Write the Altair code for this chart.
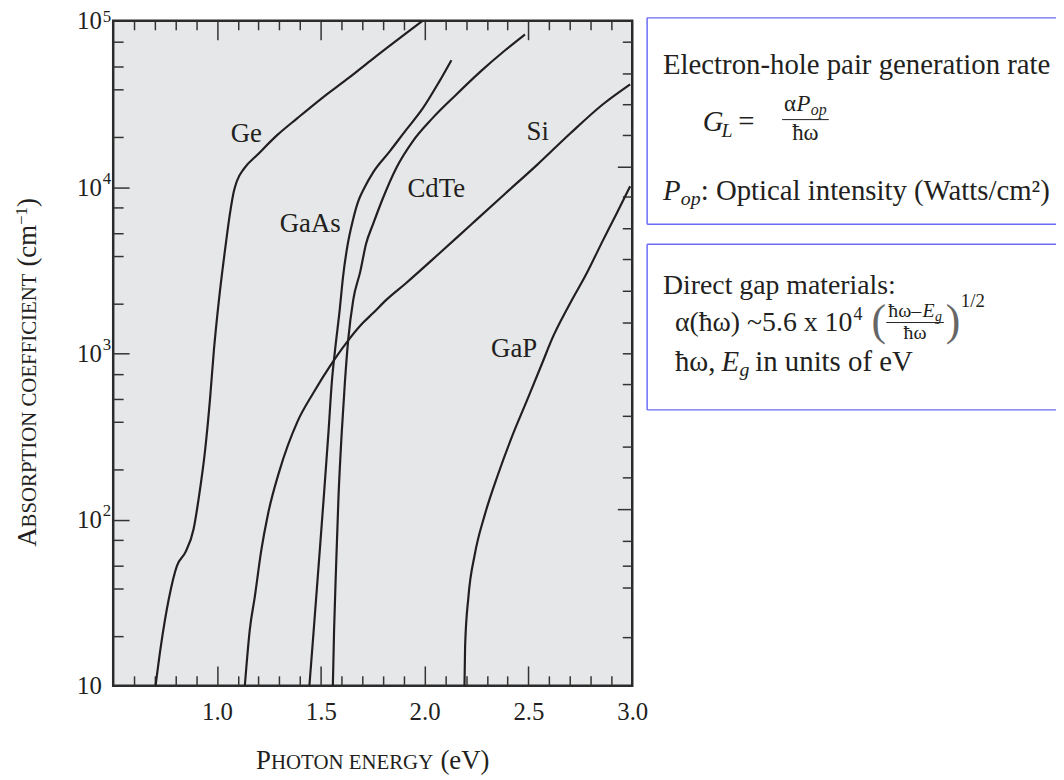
import altair as alt
import pandas as pd

FONT = "Liberation Serif"
INK = "#231f20"
BOX = "#6b6bf5"

# ---------------- data ----------------
materials = ["Ge", "GaAs", "CdTe", "Si", "GaP"]

ge_energy = [0.704, 0.728, 0.768, 0.807, 0.848, 0.887, 0.911, 0.943, 0.966, 0.985, 1.009, 1.038,
             1.064, 1.081, 1.095, 1.132, 1.196, 1.291, 1.386, 1.512, 1.639, 1.749, 1.990]
ge_alpha = [10, 16.8, 33.4, 52.7, 63.7, 87.3, 132, 263, 524, 1043, 2075, 4130,
            7150, 9400, 10800, 13000, 15700, 20600, 25900, 34800, 45800, 58900, 100000]

gaas_energy = [1.445, 1.466, 1.490, 1.514, 1.537, 1.553, 1.569, 1.591, 1.607, 1.630, 1.654, 1.678,
               1.710, 1.752, 1.832, 1.910, 1.990, 2.069, 2.129]
gaas_alpha = [10, 21.8, 54, 135, 337, 670, 1057, 1828, 2885, 4560, 6280, 8060,
              9910, 12270, 16400, 22000, 29600, 42800, 58000]

cdte_energy = [1.558, 1.564, 1.574, 1.585, 1.601, 1.616, 1.632, 1.656, 1.690, 1.718, 1.752, 1.800,
               1.863, 1.942, 2.037, 2.148, 2.274, 2.385, 2.483]
cdte_alpha = [10, 21.8, 54, 135, 337, 670, 1210, 2090, 3100, 4560, 6000, 8630,
              13000, 18800, 25900, 35600, 50200, 66100, 82800]

si_energy = [1.134, 1.158, 1.182, 1.213, 1.245, 1.300, 1.387, 1.466, 1.545, 1.624, 1.703, 1.752,
             1.814, 1.910, 2.069, 2.227, 2.385, 2.543, 2.701, 2.859, 2.990]
si_alpha = [10, 21.8, 34.3, 65, 107, 195, 387, 583, 840, 1160, 1525, 1746,
            2090, 2640, 3970, 6000, 9060, 13650, 21000, 31500, 41500]

gap_energy = [2.192, 2.195, 2.211, 2.242, 2.290, 2.353, 2.417, 2.496, 2.574, 2.606, 2.701, 2.780,
              2.859, 2.923, 2.990]
gap_alpha = [10, 17.3, 34.3, 62, 107, 186, 307, 532, 921, 1160, 2000, 3020,
             4780, 6870, 10100]

label_names = ["Ge", "GaAs", "CdTe", "Si", "GaP"]
label_energy = [1.141, 1.449, 2.056, 2.545, 2.431]
label_alpha = [20900, 6030, 9730, 21550, 1057]

x_label_values = [1.0, 1.5, 2.0, 2.5, 3.0]
x_tick_values = [0.6, 0.7, 0.8, 0.9, 1.0, 1.1, 1.2, 1.3, 1.4, 1.5, 1.6, 1.7, 1.8, 1.9,
                 2.0, 2.1, 2.2, 2.3, 2.4, 2.5, 2.6, 2.7, 2.8, 2.9]
y_label_values = [10, 100, 1000, 10000, 100000]
y_exponent_values = [100, 1000, 10000, 100000]
y_left_tick_values = [20, 38.5, 53, 75, 100, 200, 385, 530, 750, 1000, 2000, 3850, 5300, 7500,
                      10000, 20000, 38500, 53000, 75000]
y_right_tick_values = [19.5, 38.8, 52.7, 74.3, 115, 179, 274, 422, 652, 995, 1540, 2380, 3670,
                       5680, 8790, 13300, 20500, 31700, 48400, 74800]

# ---------------- tables ----------------
curve_energy = dict(zip(materials, [ge_energy, gaas_energy, cdte_energy, si_energy, gap_energy]))
curve_alpha = dict(zip(materials, [ge_alpha, gaas_alpha, cdte_alpha, si_alpha, gap_alpha]))
rows = []
for m in materials:
    for i, (e, a) in enumerate(zip(curve_energy[m], curve_alpha[m])):
        rows.append({"material": m, "energy": e, "alpha": a, "order": i})
curves = pd.DataFrame(rows)
labels = pd.DataFrame({"name": label_names, "energy": label_energy, "alpha": label_alpha})

W, H = 523, 670

xs = alt.Scale(domain=[0.5, 3.0], nice=False, zero=False)
ys = alt.Scale(type="log", domain=[10, 100000], nice=False)

x_major = "abs(datum.value * 2 - round(datum.value * 2)) < 0.01"
y_major = "abs(log(datum.value) / LN10 - round(log(datum.value) / LN10)) < 0.001"
r_major = "datum.value == 13300 || datum.value == 115"
exp_expr = ("datum.value == 100 ? '2' : datum.value == 1000 ? '3' : datum.value == 10000 ? '4' : "
            "datum.value == 100000 ? '5' : ''")

x_label_axis = alt.Axis(orient="bottom", values=x_label_values, format=".1f", ticks=False, domain=False,
                        grid=False, labelFont=FONT, labelFontSize=25, labelColor=INK, labelPadding=14,
                        labelFlush=False, title=None)
y_label_axis = alt.Axis(orient="left", values=y_label_values, labelExpr="'10'", ticks=False,
                        domain=False, grid=False, labelFont=FONT, labelFontSize=25, labelColor=INK,
                        labelPadding=12, title=None)
y_exp_axis = alt.Axis(orient="left", values=y_exponent_values, labelExpr=exp_expr, ticks=False,
                      domain=False, grid=False, labelFont=FONT, labelFontSize=17, labelColor=INK,
                      labelPadding=11, labelAlign="left", title=None,
                      labelOffset={"condition": {"test": "datum.value == 100000", "value": -4},
                                   "value": -9})


def tick_axis(orient, offset, values, test, major, minor):
    return alt.Axis(orient=orient, offset=offset, values=values, labels=False, domain=False, grid=False,
                    title=None, tickColor="#333333", tickWidth=1.5,
                    tickSize={"condition": {"test": test, "value": major}, "value": minor})


lines = alt.Chart(curves).mark_line(color=INK, strokeWidth=2.2, interpolate="monotone", clip=True).encode(
    x=alt.X("energy:Q", scale=xs, axis=x_label_axis),
    y=alt.Y("alpha:Q", scale=ys, axis=y_label_axis),
    detail="material:N",
    order="order:Q",
)

exps = alt.Chart(curves).mark_line(opacity=0).encode(
    x=alt.X("energy:Q", scale=xs, axis=None),
    y=alt.Y("alpha:Q", scale=ys, axis=y_exp_axis),
    detail="material:N",
)

ticks_a = alt.Chart(curves).mark_line(opacity=0).encode(
    x=alt.X("energy:Q", scale=xs, axis=tick_axis("top", -H, x_tick_values, x_major, 20, 10)),
    y=alt.Y("alpha:Q", scale=ys, axis=tick_axis("right", -W, y_left_tick_values, y_major, 16, 10)),
    detail="material:N",
)
ticks_b = alt.Chart(curves).mark_line(opacity=0).encode(
    x=alt.X("energy:Q", scale=xs, axis=tick_axis("bottom", -H, x_tick_values, x_major, 19, 9)),
    y=alt.Y("alpha:Q", scale=ys, axis=tick_axis("left", -W, y_right_tick_values, r_major, 15, 10)),
    detail="material:N",
)

curve_labels = alt.Chart(labels).mark_text(font=FONT, fontSize=27, color=INK).encode(
    x=alt.X("energy:Q", scale=xs, axis=None),
    y=alt.Y("alpha:Q", scale=ys, axis=None),
    text="name:N",
)

# ---------------- titles and side notes (layout in pixels) ----------------
one = pd.DataFrame({"k": [0]})


def hrule(x, x2, y, color=BOX, width=1.5):
    return alt.Chart(one).mark_rule(color=color, strokeWidth=width).encode(
        x=alt.value(x), x2=alt.value(x2), y=alt.value(y))


def vrule(x, y, y2, color=BOX, width=1.5):
    return alt.Chart(one).mark_rule(color=color, strokeWidth=width).encode(
        x=alt.value(x), y=alt.value(y), y2=alt.value(y2))


def note(s, x, y, size=28, italic=False, align="left", color=INK, baseline="middle", angle=0):
    return alt.Chart(pd.DataFrame({"s": [s]})).mark_text(
        font=FONT, fontSize=size, fontStyle="italic" if italic else "normal", align=align,
        baseline=baseline, color=color, angle=angle).encode(text="s:N", x=alt.value(x), y=alt.value(y))


# small-caps style axis titles
titles = [
    note("P", 144, 754, size=27, baseline="alphabetic"),
    note("HOTON ENERGY", 159, 754, size=21, baseline="alphabetic"),
    note("(eV)", 329.7, 754, size=27, baseline="alphabetic"),
    note("A", -78, 530, size=27, baseline="alphabetic", angle=270),
    note("BSORPTION COEFFICIENT", -78, 510.5, size=21, baseline="alphabetic", angle=270),
    note("(cm", -78, 247.6, size=27, baseline="alphabetic", angle=270),
    note("\u22121", -87, 205.6, size=17, baseline="alphabetic", angle=270),
    note(")", -78, 187.5, size=27, baseline="alphabetic", angle=270),
]

notes = [
    hrule(538, 960, -3), hrule(538, 960, 205), vrule(538, -3, 205),
    note("Electron-hole pair generation rate", 554, 45, size=29),
    note("G", 594, 102, size=29, italic=True),
    note("L", 613, 111, size=20, italic=True),
    note("=", 638, 102, size=29, align="center"),
    note("\u03b1", 676, 84, size=23),
    note("P", 688.5, 84, size=23, italic=True),
    note("op", 703, 90, size=16, italic=True),
    hrule(674, 721, 99.5, color=INK, width=1),
    note("\u0127\u03c9", 697.5, 113, size=23, align="center"),
    note("P", 554, 172, size=29, italic=True),
    note("op", 572, 180, size=20, italic=True),
    note(": Optical intensity (Watts/cm\u00b2)", 592, 172, size=29),

    hrule(538, 960, 225), hrule(538, 960, 392), vrule(538, 225, 392),
    note("Direct gap materials:", 554, 267),
    note("\u03b1(\u0127\u03c9) ~5.6 x 10", 566, 305),
    note("4", 746, 296, size=18),
    note("(", 764, 304, size=44, color="#666666"),
    note("\u0127\u03c9\u2013", 781, 292, size=20),
    note("E", 815.5, 292, size=20, italic=True),
    note("g", 828, 298, size=14, italic=True),
    hrule(779, 837, 304, color=INK, width=1),
    note("\u0127\u03c9", 808, 315, size=20, align="center"),
    note(")", 839, 304, size=44, color="#666666"),
    note("1/2", 854, 282, size=19),
    note("\u0127\u03c9,", 566, 344, size=29),
    note("E", 613, 344, size=29, italic=True),
    note("g", 631, 352, size=20, italic=True),
    note("in units of eV", 647, 344, size=29),
]

chart = alt.layer(lines, exps, ticks_a, ticks_b, curve_labels, *titles, *notes).resolve_axis(
    x="independent", y="independent"
).properties(
    width=W, height=H,
    autosize=alt.AutoSizeParams(type="none"),
    padding={"left": 106, "top": 10, "right": 427, "bottom": 92},
    background="white",
).configure_view(fill="#e6e7e8", stroke="#2b2b2b", strokeWidth=2.5)

chart.save("out.html", embed_options={"renderer": "svg", "actions": False})
